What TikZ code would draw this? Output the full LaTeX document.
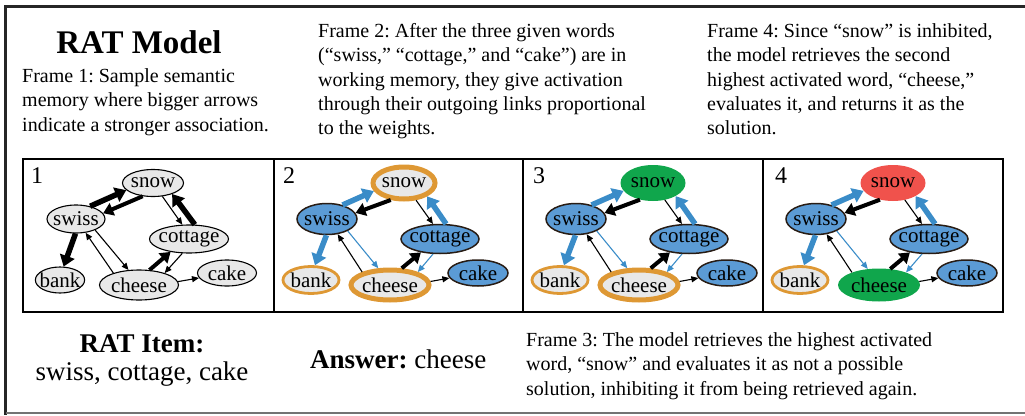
\documentclass[tikz,border=0pt]{standalone}
\usepackage{fontspec}
\setmainfont{Liberation Serif}
\usetikzlibrary{shapes.geometric,arrows.meta}
\frenchspacing
\definecolor{nblue}{RGB}{91,155,213}
\definecolor{ablue}{RGB}{58,140,200}
\definecolor{norange}{RGB}{222,152,52}
\definecolor{ngreen}{RGB}{16,166,76}
\definecolor{nred}{RGB}{240,82,76}
\definecolor{ngray}{RGB}{232,232,232}
\definecolor{nborder}{RGB}{40,28,20}
\tikzset{
  nd/.style={ellipse, inner xsep=-3pt, inner ysep=-2pt, font=\fontsize{21}{22}\selectfont, text=black},
  plain/.style={nd, draw=black, line width=1.1pt, fill=ngray},
  act/.style={nd, draw=nborder, line width=1.5pt, fill=nblue},
  wm/.style={nd, draw=norange, line width=5pt, fill=ngray},
  wmthin/.style={nd, draw=norange, line width=2.8pt, fill=ngray},
  inh/.style={nd, fill=nred},
  sol/.style={nd, fill=ngreen},
  thinlink/.style={line width=1.1pt, -{Triangle[length=7pt,width=6pt]}},
  midlink/.style={line width=4pt, -{Triangle[length=10pt,width=13pt]}},
  fatlink/.style={line width=5.5pt, -{Triangle[length=11pt,width=15pt]}},
  txt/.style={font=\fontsize{20}{24.3}\selectfont, align=left, anchor=north west, inner sep=0pt},
  num/.style={font=\fontsize{24}{26}\selectfont, anchor=base west, inner sep=0pt},
}
\newcommand\paneledges[2]{%
  \draw[fatlink,#2] (swiss#1.42) -- (snow#1.195);
  \draw[midlink,black] (snow#1.232) -- (swiss#1.12);
  \draw[thinlink,black] (snow#1.305) -- (cottage#1.115);
  \draw[fatlink,#2] (cottage#1.68) -- (snow#1.330);
  \draw[fatlink,#2] (swiss#1.268) -- (bank#1.75);
  \draw[thinlink,#2] (swiss#1.330) -- (cheese#1.125);
  \draw[thinlink,black] (cheese#1.155) -- (swiss#1.305);
  \draw[midlink,black] (cheese#1.55) -- (cottage#1.215);
  \draw[thinlink,#2] (cottage#1.245) -- (cheese#1.25);
  \draw[thinlink,black] (cheese#1.5) -- (cake#1.190);
}
\begin{document}
\begin{tikzpicture}[x=1pt,y=-1pt]
\useasboundingbox (0,0) rectangle (1025,415);
% outer frame
\draw[line width=3pt, black!85] (1025,6) -- (5.5,6) -- (5.5,415);
\draw[line width=1.2pt, black!55] (5.5,413) -- (1025,413);
% panels
\draw[line width=2.8pt] (23,159) rectangle (1003,312);
\draw[line width=2.8pt] (274,159) -- (274,312);
\draw[line width=2.8pt] (523,159) -- (523,312);
\draw[line width=2.8pt] (763,159) -- (763,312);

% texts
\node[font=\bfseries\fontsize{33}{36}\selectfont, anchor=base] (title) at (139,53) {RAT Model};
\node[txt] (f1) at (22,68.4) {Frame 1: Sample semantic\\memory where bigger arrows\\indicate a stronger association.};
\node[txt] (f2) at (318,23.4) {Frame 2: After the three given words\\(“swiss,” “cottage,” and “cake”) are in\\working memory, they give activation\\through their outgoing links proportional\\to the weights.};
\node[txt] (f4) at (707,23.4) {Frame 4: Since “snow” is inhibited,\\the model retrieves the second\\highest activated word, “cheese,”\\evaluates it, and returns it as the\\solution.};
\node[txt] (f3) at (526,332.4) {Frame 3: The model retrieves the highest activated\\word, “snow” and evaluates it as not a possible\\solution, inhibiting it from being retrieved again.};
\node[font=\bfseries\fontsize{27}{30}\selectfont, anchor=base] (item) at (142,352) {RAT Item:};
\node[font=\fontsize{27}{30}\selectfont, anchor=base] (words) at (142,380) {swiss, cottage, cake};
\node[font=\fontsize{27}{30}\selectfont, anchor=base west, inner sep=0pt] (ans) at (310,368) {\textbf{Answer:} cheese};

% panel 1
\begin{scope}[shift={(23,0)}]
\node[num] (num1) at (8,183) {1};
\node[plain, minimum width=61pt, minimum height=27pt] (snow1) at (130,183) {snow};
\node[plain, minimum width=58pt, minimum height=28pt] (swiss1) at (53,219) {swiss};
\node[plain, minimum width=79pt, minimum height=28pt] (cottage1) at (166,239) {cottage};
\node[plain, minimum width=48pt, minimum height=26pt] (bank1) at (37,280) {bank};
\node[plain, minimum width=79pt, minimum height=30pt] (cheese1) at (116,285) {cheese};
\node[plain, minimum width=59pt, minimum height=26pt] (cake1) at (204,273) {cake};
\paneledges{1}{black}
\end{scope}

% panel 2
\begin{scope}[shift={(274,0)}]
\node[num] (num2) at (9,183) {2};
\node[wm, minimum width=62pt, minimum height=32pt] (snow2) at (130,183) {snow};
\node[act, minimum width=60pt, minimum height=31pt] (swiss2) at (53,219) {swiss};
\node[act, minimum width=78pt, minimum height=29pt] (cottage2) at (166,239) {cottage};
\node[wmthin, minimum width=56pt, minimum height=27pt] (bank2) at (37,280) {bank};
\node[wm, minimum width=78pt, minimum height=30pt] (cheese2) at (116,285) {cheese};
\node[act, minimum width=60pt, minimum height=26pt] (cake2) at (204,273) {cake};
\paneledges{2}{ablue}
\end{scope}

% panel 3
\begin{scope}[shift={(523,0)}]
\node[num] (num3) at (10,183) {3};
\node[sol, minimum width=65pt, minimum height=36pt] (snow3) at (130,183) {snow};
\node[act, minimum width=60pt, minimum height=31pt] (swiss3) at (53,219) {swiss};
\node[act, minimum width=78pt, minimum height=29pt] (cottage3) at (166,239) {cottage};
\node[wmthin, minimum width=56pt, minimum height=27pt] (bank3) at (37,280) {bank};
\node[wm, minimum width=78pt, minimum height=30pt] (cheese3) at (116,285) {cheese};
\node[act, minimum width=60pt, minimum height=26pt] (cake3) at (204,273) {cake};
\paneledges{3}{ablue}
\end{scope}

% panel 4
\begin{scope}[shift={(763,0)}]
\node[num] (num4) at (12,183) {4};
\node[inh, minimum width=65pt, minimum height=36pt] (snow4) at (130,183) {snow};
\node[act, minimum width=60pt, minimum height=31pt] (swiss4) at (53,219) {swiss};
\node[act, minimum width=78pt, minimum height=29pt] (cottage4) at (166,239) {cottage};
\node[wmthin, minimum width=56pt, minimum height=27pt] (bank4) at (37,280) {bank};
\node[sol, minimum width=82pt, minimum height=33pt] (cheese4) at (116,285) {cheese};
\node[act, minimum width=60pt, minimum height=26pt] (cake4) at (204,273) {cake};
\paneledges{4}{ablue}
\end{scope}
\end{tikzpicture}
\end{document}
